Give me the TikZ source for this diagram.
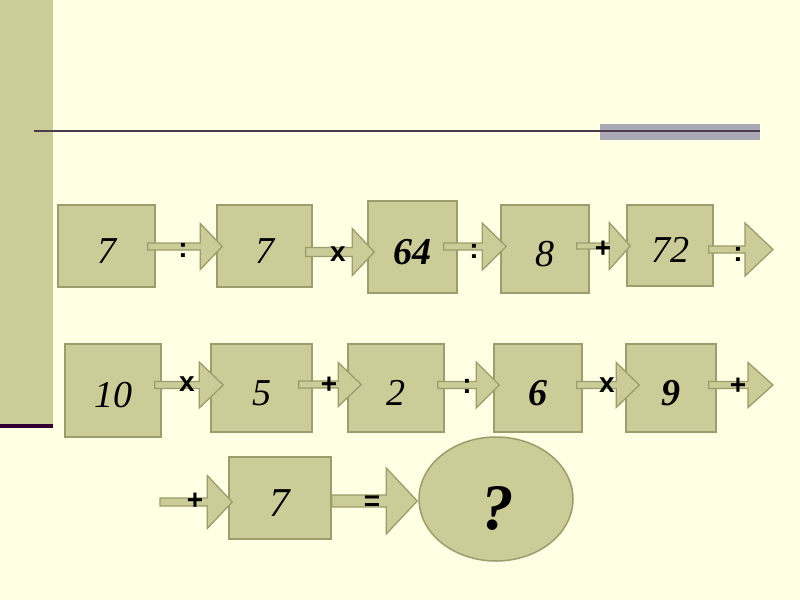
\documentclass[tikz,border=0pt]{standalone}
\usepackage{fontspec}
\setmainfont{Liberation Serif}
\newfontfamily\lsans{Liberation Sans}
\usetikzlibrary{calc,shapes.geometric}
\definecolor{bg}{HTML}{FFFFE3}
\definecolor{boxfill}{HTML}{CCCC99}
\definecolor{boxline}{HTML}{9C9C6C}
\definecolor{rule}{HTML}{4D3A4D}
\definecolor{barc}{HTML}{330033}
\definecolor{grayrect}{HTML}{A9A9B6}
\newcommand\barr[5]{%
  \draw[arr] let \p1=(#1), \p2=(#2) in
   (\x1,\y1+#3) -- (\x2-#5,\y1+#3) -- (\x2-#5,\y1+#4) -- (\x2,\y1)
   -- (\x2-#5,\y1-#4) -- (\x2-#5,\y1-#3) -- (\x1,\y1-#3) -- cycle;}
\begin{document}
\begin{tikzpicture}[x=1pt,y=-1pt,
  box/.style={draw=boxline,fill=boxfill,line width=1.5pt,inner sep=0pt,
    font=\fontsize{38}{40}\selectfont\itshape,text height=34pt,text depth=0pt},
  arr/.style={draw=boxline,fill=boxfill,line width=1.3pt,line join=miter},
  op/.style={inner sep=0pt,font=\lsans\bfseries\fontsize{28}{30}\selectfont}]
\useasboundingbox (0,0) rectangle (800,600);
\fill[bg] (0,0) rectangle (800,600);
% left panel
\fill[boxfill] (0,0) rectangle (53,424);
\fill[barc] (0,424) rectangle (53,428);
% header rule
\fill[grayrect] (600,124) rectangle (760,140);
\draw[rule,line width=2.5pt] (34,131) -- (760,131);
% boxes
\node[box,minimum width=97pt,minimum height=82pt] (b1) at (106.5,246) {7};
\node[box,minimum width=95pt,minimum height=82pt] (b2) at (264.5,246) {7};
\node[box,minimum width=89pt,minimum height=92pt] (b3) at (412.5,247) {\bfseries 64};
\node[box,minimum width=88pt,minimum height=88pt] (b4) at (545,249) {8};
\node[box,minimum width=86pt,minimum height=81pt] (b5) at (670,245.5) {72};
\node[box,minimum width=96pt,minimum height=93pt] (b6) at (113,390.5) {10};
\node[box,minimum width=101pt,minimum height=88pt] (b7) at (261.5,388) {5};
\node[box,minimum width=96pt,minimum height=88pt] (b8) at (396,388) {2};
\node[box,minimum width=88pt,minimum height=88pt] (b9) at (538,388) {\bfseries 6};
\node[box,minimum width=90pt,minimum height=88pt] (b10) at (671,388) {\bfseries 9};
\node[box,minimum width=102pt,minimum height=82pt,font=\fontsize{41}{43}\selectfont\itshape,text height=36pt] (b11) at (280,498) {7};
\node[ellipse,draw=boxline,fill=boxfill,line width=1.5pt,inner sep=0pt,
  minimum width=154pt,minimum height=124pt,
  font=\fontsize{65}{67}\selectfont\bfseries\itshape,text height=60pt,text depth=0pt] (ell) at (496,499) {\hspace*{3pt}?};
% free ends
\coordinate (t5) at (773,250);
\coordinate (t10) at (773,385);
\coordinate (s11) at (160,502);
% arrows
\barr{[xshift=-8pt,yshift=-0.5pt]b1.east}{[xshift=6pt]b2.west}{3.5pt}{23pt}{22pt}
\barr{[xshift=-7pt,yshift=-6pt]b2.east}{[xshift=7pt]b3.west}{4.5pt}{23.5pt}{22pt}
\barr{[xshift=-14pt,yshift=0.5pt]b3.east}{[xshift=6pt]b4.west}{3.5pt}{23.5pt}{24pt}
\barr{[xshift=-13pt,yshift=3pt]b4.east}{[xshift=4pt]b5.west}{3pt}{23.5pt}{21pt}
\barr{[xshift=-5pt,yshift=-4pt]b5.east}{t5}{3.5pt}{26.5pt}{28pt}
\barr{[xshift=-7pt,yshift=5.5pt]b6.east}{[xshift=13pt]b7.west}{3.5pt}{23pt}{24pt}
\barr{[xshift=-14pt,yshift=3.5pt]b7.east}{[xshift=14pt]b8.west}{3.5pt}{22pt}{23pt}
\barr{[xshift=-7pt,yshift=3pt]b8.east}{[xshift=6pt]b9.west}{3.5pt}{23pt}{23pt}
\barr{[xshift=-6pt,yshift=3pt]b9.east}{[xshift=14pt]b10.west}{3.5pt}{22.5pt}{23pt}
\barr{[xshift=-8pt,yshift=3pt]b10.east}{t10}{3.5pt}{22.5pt}{25pt}
\barr{s11}{[xshift=4pt]b11.west}{4pt}{26.5pt}{25pt}
\barr{[yshift=-3pt]b11.east}{[xshift=-1pt]ell.west}{6pt}{33pt}{31pt}
% operation labels
\node[op] (o1) at (183,250) {:};
\node[op] (o2) at (338,254) {x};
\node[op] (o3) at (474,251) {:};
\node[op] (o4) at (603,249) {+};
\node[op] (o5) at (738,254) {:};
\node[op] (o6) at (187,384) {x};
\node[op] (o7) at (329,385) {+};
\node[op] (o8) at (467,386) {:};
\node[op] (o9) at (607,385) {x};
\node[op] (o10) at (738,386) {+};
\node[op] (o11) at (195,501) {+};
\node[op] (o12) at (372,503) {=};
\end{tikzpicture}
\end{document}
